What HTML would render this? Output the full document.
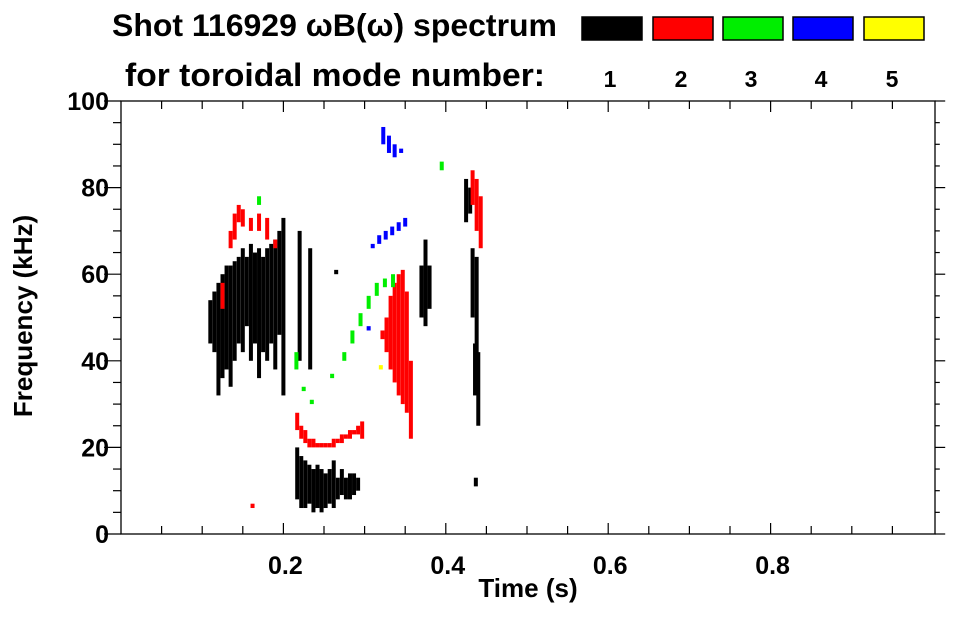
<!DOCTYPE html>
<html><head><meta charset="utf-8"><style>
body{margin:0;background:#fff;}
svg text{font-family:"Liberation Sans",sans-serif;font-weight:bold;fill:#000;}
</style></head><body>
<svg id="chart" width="963" height="615" viewBox="0 0 963 615" xmlns="http://www.w3.org/2000/svg">
<text x="112" y="36" font-size="31.5" textLength="445" lengthAdjust="spacingAndGlyphs">Shot 116929 ωB(ω) spectrum</text>
<text x="125" y="86" font-size="32" textLength="420" lengthAdjust="spacingAndGlyphs">for toroidal mode number:</text>
<g id="legend"></g>
<g id="marks"></g>
<g id="axes"></g>
<text x="528" y="597" font-size="26" text-anchor="middle">Time (s)</text>
<text transform="translate(32,316) rotate(-90)" font-size="26" text-anchor="middle">Frequency (kHz)</text>
</svg>
<script>
const modeNames=['1','2','3','4','5'];
const modeColors=['#000000','#ff0000','#00ee00','#0000ff','#ffff00'];
const xTicks=[0.2,0.4,0.6,0.8];
const yTicks=[0,20,40,60,80,100];
// columns: [time s, freq low kHz, freq high kHz]
const mode1=[[0.110,44,54],[0.115,42,56],[0.120,32,58],[0.125,36,60],[0.130,38,62],[0.135,34,62],[0.140,40,63],[0.145,44,64],[0.150,42,66],[0.155,48,64],[0.160,40,67],[0.165,44,65],[0.170,36,66],[0.175,42,64],[0.180,40,66],[0.185,44,67],[0.190,38,68],[0.195,46,70],[0.200,32,73],[0.220,40,70],[0.233,38,66],[0.265,60,61],
[0.217,8,20],[0.222,6,18],[0.227,6,17],[0.232,7,16],[0.237,5,15],[0.242,6,16],[0.247,5,15],[0.252,6,14],[0.257,7,15],[0.262,6,17],[0.267,8,13],[0.272,9,15],[0.277,8,13],[0.282,8,14],[0.287,9,14],[0.292,10,13],
[0.370,50,62],[0.375,48,68],[0.380,52,62],[0.425,72,82],[0.430,74,80],[0.433,50,66],[0.438,40,64],[0.436,32,44],[0.440,25,42],[0.437,11,13]];
const mode2=[[0.125,52,58],[0.135,66,70],[0.140,68,74],[0.145,72,76],[0.150,71,75],[0.160,70,73],[0.170,70,74],[0.180,68,73],[0.190,66,68],[0.162,6,7],
[0.217,24,28],[0.222,22,25],[0.227,21,24],[0.232,20,22],[0.237,20,22],[0.242,20,21],[0.247,20,21],[0.252,20,21],[0.257,20,21],[0.262,20,22],[0.267,21,22],[0.272,21,23],[0.277,22,23],[0.282,22,24],[0.287,23,24],[0.292,23,25],[0.297,22,26],
[0.322,45,47],[0.327,42,50],[0.332,38,55],[0.337,35,58],[0.342,32,60],[0.347,30,61],[0.352,28,56],[0.357,22,40],[0.433,76,84],[0.438,70,82],[0.443,66,78]];
const mode3=[[0.170,76,78],[0.216,38,42],[0.225,33,34],[0.235,30,31],[0.260,36,37],[0.275,40,42],[0.285,44,47],[0.295,48,51],[0.305,52,55],[0.315,55,58],[0.325,57,59],[0.335,57,60],[0.395,84,86]];
const mode4=[[0.323,90,94],[0.330,88,92],[0.337,87,90],[0.345,88,89],[0.310,66,67],[0.318,67,69],[0.326,68,70],[0.334,69,71],[0.342,70,72],[0.350,71,73],[0.305,47,48]];
const mode5=[[0.320,38,39]];
const series=[mode1,mode2,mode3,mode4,mode5];
const X0=121,X1=933,Y0=534,Y1=101;
const sx=t=>X0+(X1-X0)*t;
const sy=f=>Y0-(Y0-Y1)*f/100;
const NS='http://www.w3.org/2000/svg';
function mk(tag,at,parent){const e=document.createElementNS(NS,tag);for(const k in at)e.setAttribute(k,at[k]);parent.appendChild(e);return e;}
const marks=document.getElementById('marks');
series.forEach((cols,i)=>{cols.forEach(c=>{
 const r=mk('rect',{x:sx(c[0])-2,y:sy(c[2]),width:4,height:Math.max(1.5,sy(c[1])-sy(c[2])),fill:modeColors[i]},marks);
 
 
});});
const leg=document.getElementById('legend');
const lx=[582,653,723,793,864];
modeNames.forEach((n,i)=>{
 const b=mk('rect',{x:lx[i],y:17,width:60,height:23,fill:modeColors[i],stroke:'#000','stroke-width':1.5},leg);
 
 
 const t=mk('text',{x:lx[i]+28,y:87,'font-size':23,'text-anchor':'middle'},leg);t.textContent=n;
 
 
});
const ax=document.getElementById('axes');
mk('rect',{x:X0,y:Y1,width:X1-X0+2,height:Y0-Y1,fill:'none',stroke:'#000','stroke-width':1.3},ax);
for(let f=0;f<=100;f+=5){const L=f%20==0?17:8;const y=sy(f);
 mk('line',{x1:X0-L,x2:X0,y1:y,y2:y,stroke:'#000','stroke-width':1.2},ax);
 mk('line',{x1:X1+2,x2:X1+2+L*0.6,y1:y,y2:y,stroke:'#000','stroke-width':1.2},ax);}
for(let k=1;k<20;k++){const x=sx(k*0.05);const L=k%4==0?11:8;
 mk('line',{x1:x,x2:x,y1:Y0,y2:Y0-L,stroke:'#000','stroke-width':1.2},ax);
 mk('line',{x1:x,x2:x,y1:Y1,y2:Y1+L,stroke:'#000','stroke-width':1.2},ax);}
yTicks.forEach(v=>{const t=mk('text',{x:109,y:sy(v)+9,'font-size':25,'text-anchor':'end'},ax);t.textContent=v;
 
 });
xTicks.forEach(v=>{const t=mk('text',{x:sx(v)+2,y:574,'font-size':25,'text-anchor':'middle'},ax);t.textContent=v;
 
 });
</script>
</body></html>
